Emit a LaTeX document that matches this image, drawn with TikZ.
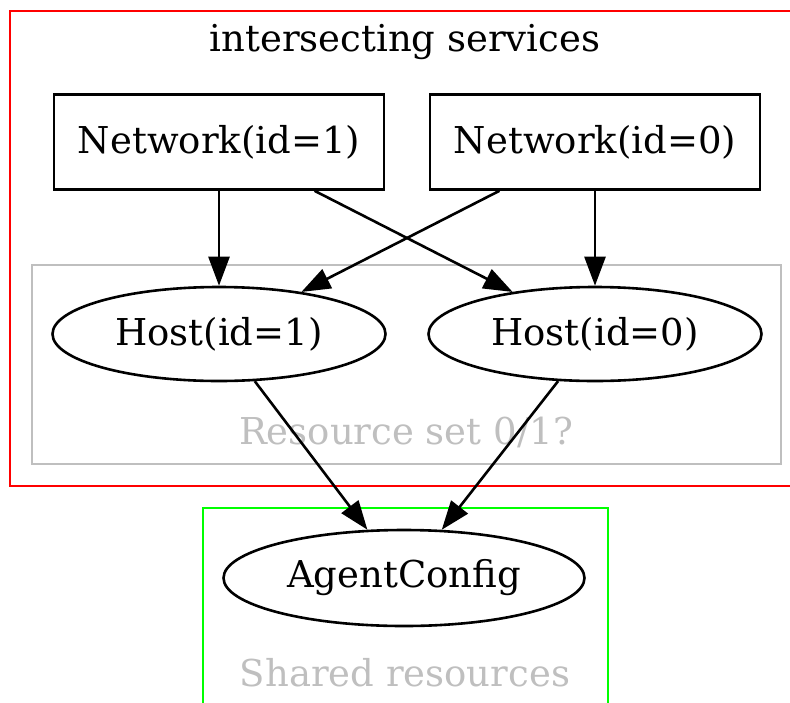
\documentclass[tikz,border=0pt]{standalone}
\usepackage{fontspec}
\setmainfont{DejaVu Serif}
\usetikzlibrary{arrows.meta,shapes.geometric}

\tikzset{
  box/.style={draw, minimum width=330pt, minimum height=95pt, inner sep=0pt},
  oval/.style={draw, ellipse, minimum width=333pt, minimum height=94pt, inner sep=0pt},
  lbl/.style={font=\fontsize{37}{42}\selectfont},
}

\begin{document}
\begin{tikzpicture}[x=1pt, y=-1pt, font=\fontsize{37}{42}\selectfont,
    >={Triangle[length=29pt,width=21pt]}, line width=2.6pt]
\useasboundingbox (0,0) rectangle (790,702);
\clip (0,0) rectangle (790,702);
      \begin{scope}[shift={(0,0)}]
\draw[red] (10,11) rectangle (800,486);
\node[lbl] (t0) at (405,42) {intersecting services};
\draw[black!25] (32,265) rectangle (781,464);
\node[lbl, black!25] (t1) at (406,432) {Resource set 0/1?};
\draw[green] (203,508) rectangle (608,720);
\node[lbl, black!25] (t2) at (405,673) {Shared resources};
\node[box] (0) at (219,142) {Network(id=1)};
\node[box] (1) at (595,142) {Network(id=0)};
\node[oval] (2) at (219,334) {Host(id=1)};
\node[oval] (3) at (595,334) {Host(id=0)};
\node[oval, minimum width=361pt, minimum height=96pt] (4) at (404,578) {AgentConfig};
\draw[->] (0) -- (2);
\draw[->] (0) -- (3);
\draw[->] (1) -- (2);
\draw[->] (1) -- (3);
\draw[->] (2) -- (4);
\draw[->] (3) -- (4);
\end{scope}
    \end{tikzpicture}
\end{document}
